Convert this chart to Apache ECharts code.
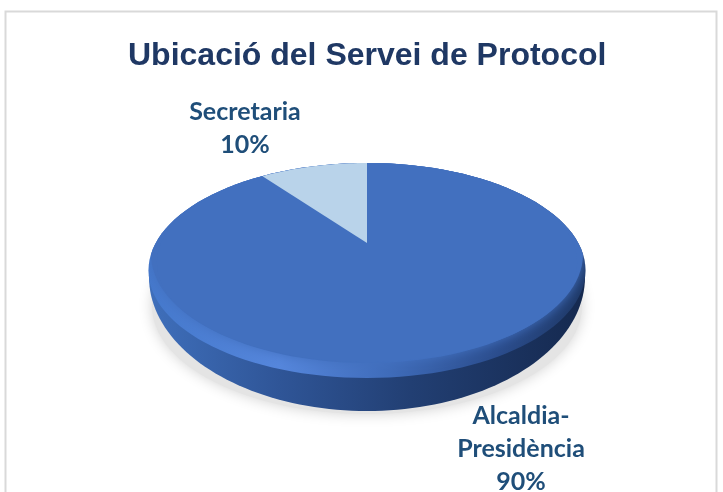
<!DOCTYPE html>
<html><head><meta charset="utf-8">
<style>html,body{margin:0;padding:0;background:#fff}#c{width:723px;height:492px}</style>
<script src="https://cdn.jsdelivr.net/npm/echarts@6/dist/echarts.min.js"></script>
</head><body><div id="c"></div>
<script>
var titleText = 'Ubicació del Servei de Protocol';
var categories = ['Alcaldia-\nPresidència', 'Secretaria'];
var values = [90, 10];
var sliceColors = ['#4270bf', '#b9d3ea'];
var total = values.reduce(function (a, b) { return a + b; }, 0);

// Tilted disc: a circle seen in perspective
var apex = { x: 367, y: 243 }, A = 206, B = 95.7, K = 0.196;
function project(t) { // t: 0..1 of full turn, clockwise from the back of the disc
  var a = t * 2 * Math.PI, u = Math.sin(a), v = -Math.cos(a), d = 1 - K * v;
  return [apex.x + A * u / d, apex.y + B * v / d];
}
function slicePoints(t0, t1) {
  var pts = [[apex.x, apex.y]], n = Math.max(4, Math.ceil((t1 - t0) * 240));
  for (var i = 0; i <= n; i++) pts.push(project(t0 + (t1 - t0) * i / n));
  return pts;
}
function sliceStart(i) {
  var s = 0; for (var j = 0; j < i; j++) s += values[j];
  return s / total;
}
function ell(cx, cy, rx, ry) { return { type: 'ellipse', shape: { cx: cx, cy: cy, rx: rx, ry: ry } }; }
function hGrad(stops) {
  return { type: 'linear', x: 0, y: 0, x2: 1, y2: 0, colorStops: stops.map(function (s) { return { offset: s[0], color: s[1] }; }) };
}
var labelStyle = { fontFamily: 'Lato', fontWeight: 'bold', fontSize: 25, fill: '#1f4e79', align: 'center', verticalAlign: 'middle', lineHeight: 33 };
var labelPos = [[521, 449], [245, 128]];

function renderItem(params, api) {
  var i = params.dataIndex, kids = [];
  if (i === 0) {
    // drop shadow, side wall and bevel of the disc
    kids.push(Object.assign(ell(367, 306, 215, 108), { style: { fill: '#e4e4e4', shadowBlur: 14, shadowColor: 'rgba(0,0,0,0.18)' } }));
    var wall = [];
    for (var a = 0; a <= 180; a += 2) {
      var r = a * Math.PI / 180;
      wall.push([367 + 218 * Math.cos(r), 277 + 134 * Math.sin(r)]);
    }
    kids.push({ type: 'polygon', shape: { points: wall }, style: { fill: hGrad([[0, '#3f6fbb'], [0.3, '#2f5597'], [0.6, '#223f73'], [1, '#15294f']]) } });
    kids.push({
      type: 'group',
      clipPath: ell(367, 270.5, 218.5, 107.5),
      children: [
        Object.assign(ell(367, 270.5, 220, 110), { style: { fill: hGrad([[0, '#4478cc'], [0.3, '#5586dc'], [0.55, '#3f6cba'], [0.8, '#2a4c8c'], [1, '#1d3765']]) } }),
        Object.assign(ell(367, 254, 216, 109), { style: { fill: sliceColors[0], shadowBlur: 12, shadowColor: sliceColors[0] } })
      ]
    });
  }
  var t0 = sliceStart(i), t1 = t0 + api.value(0) / total;
  kids.push({ type: 'polygon', shape: { points: slicePoints(t0, t1) }, style: { fill: sliceColors[i] } });
  return { type: 'group', children: kids };
}

var chart = echarts.init(document.getElementById('c'), null, { renderer: 'canvas' });
chart.setOption({
  animation: false,
  backgroundColor: '#fff',
  title: { text: titleText, left: 123, top: 35, textStyle: { fontFamily: '"Liberation Sans"', fontWeight: 'bold', fontSize: 32, color: '#1f3864' } },
  graphic: [
    { type: 'rect', silent: true, z: -1, shape: { x: 5.5, y: 11.5, width: 711, height: 490 }, style: { fill: 'none', stroke: '#d9d9d9', lineWidth: 2 } },
    { type: 'text', z: 10, style: Object.assign({ text: categories[1] + '\n' + values[1] + '%', x: labelPos[1][0], y: labelPos[1][1] }, labelStyle) },
    { type: 'text', z: 10, style: Object.assign({ text: categories[0] + '\n' + values[0] + '%', x: labelPos[0][0], y: labelPos[0][1] }, labelStyle) }
  ],
  series: [{
    type: 'custom', coordinateSystem: 'none', renderItem: renderItem,
    data: values.map(function (v, i) { return { name: categories[i], value: [v] }; })
  }]
});
</script></body></html>
